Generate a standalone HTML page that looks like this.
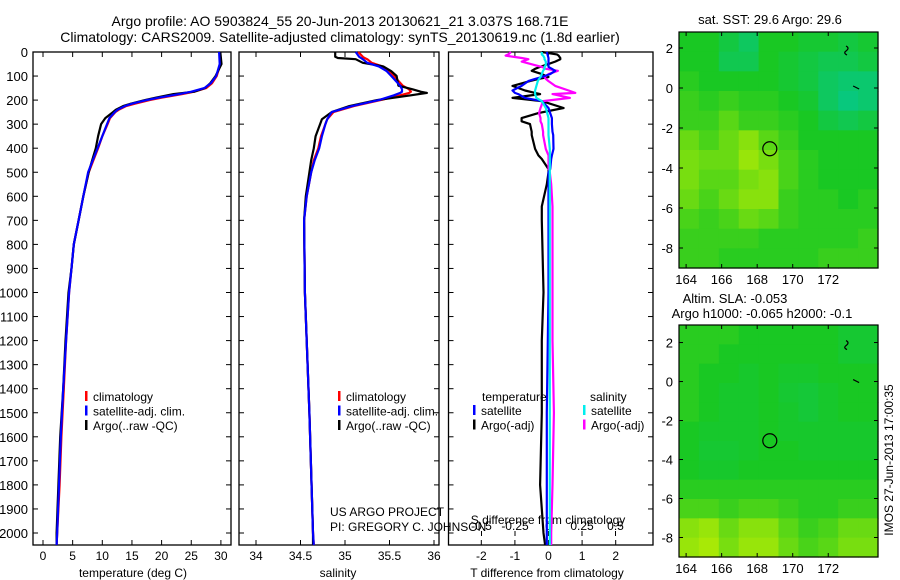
<!DOCTYPE html>
<html><head><meta charset="utf-8">
<style>
html,body{margin:0;padding:0;background:#fff;}
svg{display:block;font-family:"Liberation Sans",sans-serif;}
text{fill:#000;}
</style></head>
<body>
<svg id="fig" width="900" height="580" viewBox="0 0 900 580" xmlns="http://www.w3.org/2000/svg">
<rect width="900" height="580" fill="#fff"/>
<text x="340" y="26" font-size="14" text-anchor="middle">Argo profile: AO 5903824_55 20-Jun-2013 20130621_21 3.037S 168.71E</text>
<text x="340" y="42" font-size="14" text-anchor="middle">Climatology: CARS2009. Satellite-adjusted climatology: synTS_20130619.nc (1.8d earlier)</text>
<g id="plots"></g>
<text x="330" y="516" font-size="12">US ARGO PROJECT</text>
<text x="330" y="531" font-size="12">PI: GREGORY C. JOHNSON</text>
<text x="770" y="24" font-size="13" text-anchor="middle">sat. SST: 29.6 Argo: 29.6</text>
<text x="735" y="303" font-size="13" text-anchor="middle">Altim. SLA: -0.053</text>
<text x="762" y="318" font-size="13" text-anchor="middle">Argo h1000: -0.065 h2000: -0.1</text>
<text transform="translate(893,460) rotate(-90)" font-size="12" text-anchor="middle">IMOS 27-Jun-2013 17:00:35</text>
</svg>
<script>
// ---- profile data ----
const tempDepth = [0,50,100,130,150,165,175,190,200,215,225,240,250,275,300,350,400,450,500,600,700,800,900,1000,1200,1400,1600,1800,2000,2050];
const tempClim  = [29.8,29.9,29.3,28.5,27.5,25.5,23.5,20,18,15.5,14,12.8,12.2,11.3,10.9,10,9.3,8.5,7.7,6.8,6,5.2,4.8,4.4,3.9,3.5,3.1,2.8,2.4,2.3];
const tempSat   = [29.7,29.8,29.2,28.3,27.2,25,23,19.5,17.5,15,13.8,12.6,12.1,11.2,10.8,10,9.2,8.4,7.6,6.8,6,5.2,4.8,4.4,3.9,3.4,3.0,2.7,2.4,2.3];
const tempArgo  = [29.9,30.1,29.1,28.2,27.3,25.5,22,19,17.2,14.8,13.5,12.3,11.8,10.5,9.8,9.3,8.9,8.3,7.7,6.8,6,5.2,4.8,4.3,3.8,3.4,2.9,2.6,2.3,2.3];
const salDepth  = [0,20,25,30,45,60,80,100,140,155,165,170,180,200,225,250,280,300,350,400,450,500,600,700,1000,1500,2000,2050];
const salClim   = [35.15,35.2,35.22,35.25,35.3,35.42,35.5,35.55,35.65,35.72,35.74,35.72,35.62,35.4,35.1,34.87,34.8,34.78,34.73,34.7,34.65,34.62,34.57,34.54,34.55,34.6,34.64,34.65];
const salSat    = [35.12,35.16,35.18,35.2,35.25,35.38,35.47,35.52,35.62,35.64,35.64,35.62,35.55,35.38,35.08,34.85,34.8,34.78,34.74,34.71,34.66,34.62,34.57,34.54,34.55,34.6,34.64,34.65];
const salArgo   = [34.89,34.89,34.92,35.12,35.2,35.43,35.52,35.58,35.6,35.76,35.85,35.92,35.74,35.36,35.05,34.85,34.74,34.72,34.67,34.65,34.62,34.6,34.56,34.54,34.55,34.6,34.64,34.64];
// ---- difference data ----
const diffDepth = [0,10,15,25,30,40,55,62,70,78,92,104,112,121,141,160,170,175,191,204,233,254,275,288,300,332,345,403,430,445,487,500,550,642,700,1000,1200,1500,1800,2000,2050];
const dTSat     = [-0.05,-0.03,-0.02,0,0,0,0,0,0.1,0.2,0.05,-0.2,-0.4,-0.6,-0.8,-1.07,-1.0,-0.9,-0.7,-0.2,0,0.05,0.1,0.1,0.1,0.12,0.14,0.15,0.1,0.08,0.05,0,0,0,0,0,-0.02,-0.05,-0.05,-0.05,-0.05];
const dTArgo    = [-0.2,0.25,0.3,0.35,0.35,0.2,-0.1,-0.25,-0.4,-0.5,-0.2,0,-0.3,-0.55,-1.07,-0.7,-0.4,-0.25,-1.07,-0.2,0.45,-0.3,-0.8,-0.8,-0.55,-0.5,-0.5,-0.4,-0.3,-0.2,0,0,-0.05,-0.2,-0.2,-0.15,-0.2,-0.2,-0.25,-0.15,-0.1];
const dSSat     = [-0.05,-0.05,-0.04,-0.03,-0.03,-0.02,-0.02,-0.03,-0.03,-0.04,-0.05,-0.06,-0.07,-0.08,-0.09,-0.1,-0.1,-0.1,-0.09,-0.05,-0.02,-0.01,0,0,0,0,0,0.01,0.01,0.01,0.01,0.01,0.01,0.01,0.01,0.01,0.01,0.01,0.01,0.01,0.01];
const dSArgo    = [-0.28,-0.3,-0.32,-0.2,-0.15,-0.2,-0.1,-0.05,-0.02,0.07,0.0,-0.03,-0.02,0,0.05,0.15,0.2,0.03,0.16,-0.04,-0.06,-0.07,-0.06,-0.06,-0.05,-0.04,-0.04,-0.02,0,0,0,0.01,0.02,0.03,0.03,0.03,0.03,0.04,0.03,0.02,0.02];
// ---- axis ticks ----
const depthTicks = [0,100,200,300,400,500,600,700,800,900,1000,1100,1200,1300,1400,1500,1600,1700,1800,1900,2000];
const tempTicks = [0,5,10,15,20,25,30];
const salTicks = [34,34.5,35,35.5,36];
const salTickLabels = ["34","34.5","35","35.5","36"];
const dTTicks = [-2,-1,0,1,2];
const dSTicks = [-0.5,-0.25,0,0.25,0.5];
const dSTickLabels = ["-0.5","-0.25","0","0.25","0.5"];
// ---- map data (values 0=teal,0.45=green,1=yellow) ----
const mapLonTicks = [164,166,168,170,172];
const mapLatTicks = [2,0,-2,-4,-6,-8];
const sstGrid = [
[.45,.45,.35,.25,.45,.45,.4,.4,.35,.4],
[.45,.45,.3,.3,.45,.4,.35,.3,.3,.35],
[.5,.45,.45,.45,.45,.4,.35,.25,.2,.2],
[.55,.5,.55,.5,.5,.45,.4,.25,.15,.2],
[.55,.55,.65,.55,.55,.5,.45,.35,.3,.35],
[.7,.6,.7,.8,.65,.55,.45,.45,.45,.45],
[.75,.7,.7,.85,.75,.6,.5,.45,.45,.45],
[.75,.65,.65,.75,.8,.6,.5,.45,.45,.45],
[.7,.6,.7,.8,.8,.55,.5,.5,.45,.5],
[.6,.55,.6,.7,.65,.55,.5,.5,.5,.5],
[.55,.55,.55,.55,.5,.5,.5,.5,.5,.55],
[.55,.55,.5,.5,.5,.5,.5,.55,.55,.55]];
const slaGrid = [
[.5,.5,.5,.45,.45,.45,.45,.45,.4,.4],
[.5,.5,.45,.45,.45,.45,.45,.45,.4,.4],
[.5,.45,.45,.42,.45,.42,.42,.45,.45,.45],
[.5,.45,.42,.42,.45,.4,.38,.42,.45,.45],
[.5,.45,.42,.42,.45,.42,.38,.42,.45,.45],
[.45,.42,.42,.42,.45,.42,.42,.42,.42,.42],
[.45,.4,.4,.42,.45,.45,.42,.42,.42,.42],
[.45,.42,.42,.45,.45,.45,.45,.45,.45,.45],
[.5,.5,.5,.5,.5,.5,.5,.5,.5,.5],
[.6,.6,.55,.6,.6,.55,.5,.5,.55,.55],
[.8,.85,.7,.8,.8,.65,.55,.6,.7,.7],
[.85,.9,.75,.85,.85,.7,.6,.65,.75,.75]];
const argoLon = [168.71];
const argoLat = [-3.037];

const NS = "http://www.w3.org/2000/svg";
const root = document.getElementById("plots");
function el(tag, attrs, parent){const e=document.createElementNS(NS,tag);for(const k in attrs)e.setAttribute(k,attrs[k]);(parent||root).appendChild(e);return e;}
function txt(x,y,s,size,anchor,parent){const t=el("text",{x:x,y:y,"font-size":size,"text-anchor":anchor||"middle"},parent);t.textContent=s;return t;}

const TOP=52, BOT=545;
const yD = d => TOP + d*0.2405;
const P1={l:33,r:231}, P2={l:239,r:439}, P3={l:448.5,r:653};
const xT = v => 43 + v*5.93;
const xS = v => 256 + (v-34)*89;
const xdT = v => 548.5 + v*33.6;
const xdS = v => 548.5 + v*134;

function frame(P,name){
  const g=el("g",{});
  
  
  const r=el("rect",{x:P.l,y:TOP,width:P.r-P.l,height:BOT-TOP,fill:"none",stroke:"#000","stroke-width":1.3},g);
  
  
  depthTicks.forEach(d=>{el("line",{x1:P.l,x2:P.l+5,y1:yD(d),y2:yD(d),stroke:"#000"},g);el("line",{x1:P.r,x2:P.r-5,y1:yD(d),y2:yD(d),stroke:"#000"},g);});
  return g;
}
function poly(xs,ys,color,w,name,parent){
  const pts=xs.map((x,i)=>x.toFixed(1)+","+ys[i].toFixed(1)).join(" ");
  const p=el("polyline",{points:pts,fill:"none",stroke:color,"stroke-width":w,"stroke-linejoin":"round"},parent);
  
  
  return p;
}
function xTicks(g,P,ticks,labels,fx,yLab){
  ticks.forEach((v,i)=>{const x=fx(v);el("line",{x1:x,x2:x,y1:BOT,y2:BOT-5,stroke:"#000"},g);el("line",{x1:x,x2:x,y1:TOP,y2:TOP+5,stroke:"#000"},g);
    const t=txt(x,yLab,labels[i],12,"middle",g);});
}
function legend(g,x,items,y0){
  items.forEach((it,i)=>{const y=y0+i*14.5;el("rect",{x:x,y:y-10,width:2.5,height:10,fill:it[1]},g);
    const t=txt(x+8,y,it[0],12,"start",g);});
}

// Panel 1
const g1=frame(P1,"temperature-panel");
depthTicks.forEach(d=>{const t=txt(28,yD(d)+5,String(d),13,"end",g1);});
xTicks(g1,P1,tempTicks,tempTicks.map(String),xT,560);
const xt1=txt(133,577,"temperature (deg C)",12,"middle",g1);

poly(tempClim.map(xT),tempDepth.map(yD),"#f00",2.2,"temp-climatology-line",g1);
poly(tempArgo.map(xT),tempDepth.map(yD),"#000",2.2,"temp-argo-line",g1);
poly(tempSat.map(xT),tempDepth.map(yD),"#00f",2.2,"temp-satellite-line",g1);
legend(g1,85,[["climatology","#f00"],["satellite-adj. clim.","#00f"],["Argo(..raw -QC)","#000"]],401);

// Panel 2
const g2=frame(P2,"salinity-panel");
xTicks(g2,P2,salTicks,salTickLabels,xS,560);
const xt2=txt(338,577,"salinity",12,"middle",g2);

poly(salClim.map(xS),salDepth.map(yD),"#f00",2.2,"sal-climatology-line",g2);
poly(salArgo.map(xS),salDepth.map(yD),"#000",2.2,"sal-argo-line",g2);
poly(salSat.map(xS),salDepth.map(yD),"#00f",2.2,"sal-satellite-line",g2);
legend(g2,338,[["climatology","#f00"],["satellite-adj. clim.","#00f"],["Argo(..raw -QC)","#000"]],401);

// Panel 3
const g3=frame(P3,"difference-panel");
dTTicks.forEach(v=>{const x=xdT(v);el("line",{x1:x,x2:x,y1:BOT,y2:BOT-5,stroke:"#000"},g3);el("line",{x1:x,x2:x,y1:TOP,y2:TOP+5,stroke:"#000"},g3);
  const t=txt(x,560,String(v),12,"middle",g3);});
dSTicks.forEach((v,i)=>{const x=xdS(v);el("line",{x1:x,x2:x,y1:531,y2:536,stroke:"#000"},g3);
  const t=txt(x,530,dSTickLabels[i],12,"middle",g3);});
const xt3=txt(547,577,"T difference from climatology",12,"middle",g3);

const xt4=txt(548,524,"S difference from climatology",12,"middle",g3);

poly(dTArgo.map(xdT),diffDepth.map(yD),"#000",2.2,"t-diff-argo-line",g3);
poly(dSArgo.map(xdS),diffDepth.map(yD),"#f0f",2.2,"s-diff-argo-line",g3);
poly(dTSat.map(xdT),diffDepth.map(yD),"#00f",2.2,"t-diff-satellite-line",g3);
poly(dSSat.map(xdS),diffDepth.map(yD),"#0ee",2.2,"s-diff-satellite-line",g3);
const lt=txt(482,401,"temperature",12,"start",g3);
const ls=txt(590,401,"salinity",12,"start",g3);
legend(g3,473,[["satellite","#00f"],["Argo(-adj)","#000"]],415);
legend(g3,583,[["satellite","#0ee"],["Argo(-adj)","#f0f"]],415);

// Maps
function cmap(v){
  const a=[0,200,170], b=[25,200,35], c=[200,240,0];
  let r;
  if(v<0.45){const t=v/0.45;r=a.map((x,i)=>x+(b[i]-x)*t);}else{const t=(v-0.45)/0.55;r=b.map((x,i)=>x+(c[i]-x)*t);}
  return "rgb("+r.map(Math.round).join(",")+")";
}
function map(M,grid,name){
  const g=el("g",{});
  
  
  const lonMin=163.6, lonMax=174.8, latMax=M.latTop, latMin=M.latBot;
  const fx=lo=>M.l+(lo-lonMin)/(lonMax-lonMin)*(M.r-M.l);
  const fy=la=>M.t+(latMax-la)/(latMax-latMin)*(M.b-M.t);
  const nr=grid.length, nc=grid[0].length;
  const cw=(M.r-M.l)/nc, ch=(M.b-M.t)/nr;
  grid.forEach((row,i)=>row.forEach((v,j)=>{
    const c=el("rect",{x:M.l+j*cw,y:M.t+i*ch,width:cw+0.6,height:ch+0.6,fill:cmap(v)},g);
    
    
  }));
  el("rect",{x:M.l,y:M.t,width:M.r-M.l,height:M.b-M.t,fill:"none",stroke:"#000","stroke-width":1.2},g);
  mapLonTicks.forEach(lo=>{const x=fx(lo);el("line",{x1:x,x2:x,y1:M.b,y2:M.b-4,stroke:"#000"},g);el("line",{x1:x,x2:x,y1:M.t,y2:M.t+4,stroke:"#000"},g);
    const t=txt(x,M.b+16,String(lo),13,"middle",g);});
  mapLatTicks.forEach(la=>{const y=fy(la);el("line",{x1:M.l,x2:M.l+4,y1:y,y2:y,stroke:"#000"},g);el("line",{x1:M.r,x2:M.r-4,y1:y,y2:y,stroke:"#000"},g);
    const t=txt(M.l-6,y+5,String(la),13,"end",g);});
  el("path",{d:"M"+fx(173.0)+","+fy(2.1)+" q4,2 0,5 q-3,2 1,4 M"+fx(173.4)+","+fy(0.1)+" l6,3",stroke:"#000",fill:"none","stroke-width":1.2},g);
  argoLon.forEach((lo,i)=>{const c=el("circle",{cx:fx(lo),cy:fy(argoLat[i]),r:7,fill:"none",stroke:"#000","stroke-width":1.2},g);
    });
}
map({l:679,r:878,t:32,b:268,latTop:2.8,latBot:-9.0},sstGrid,"sst-map");
map({l:679,r:878,t:325,b:557,latTop:2.9,latBot:-9.0},slaGrid,"sla-map");
</script>
</body></html>
